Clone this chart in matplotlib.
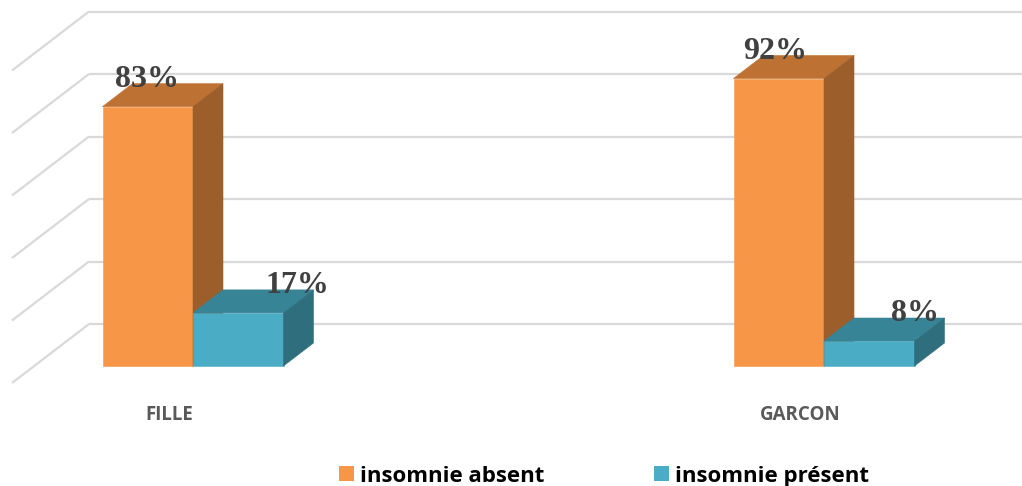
import matplotlib
matplotlib.use("Agg")
import matplotlib.pyplot as plt
from matplotlib.patches import Polygon, Patch

# data
categories = ["FILLE", "GARCON"]
series = ["insomnie absent", "insomnie présent"]
absent = [83, 92]
present = [17, 8]
grid_values = [0, 20, 40, 60, 80, 100]

# look
ORANGE = ("#F79646", "#BD7233", "#9C5E2B")   # front, top, side
TEAL = ("#4BACC6", "#388497", "#2F6E7D")
GRID = "#D9D9D9"
LABEL = "#404040"
CAT = "#595959"

# scale of the fake 3d frame (pixels per unit)
PX_X = 631.0
PX_Y = 3.125
def px_x(p): return p / PX_X
def px_y(p): return p / PX_Y

BAR_W = px_x(90.5)
DEPTH_X, DEPTH_Y = px_x(30), px_y(23)        # bar depth
BACK_X, BACK_Y = px_x(89 - 193), px_y(42)    # back wall corner
FRONT_X, WALL_Y = px_x(12 - 193), px_y(59)   # side wall front edge
LABEL_DX = [[px_x(-1), px_x(59)], [px_x(-4), px_x(46)]]

fig = plt.figure(figsize=(10.22, 4.86), dpi=100)
ax = fig.add_axes([0, 0, 1, 1])
ax.set_xlim(px_x(-193), px_x(1022 - 193))
ax.set_ylim(-px_y(486 - 366), px_y(366))
ax.axis("off")

# ---- walls gridlines ----
for v in grid_values:
    yb = v + BACK_Y
    ax.plot([BACK_X, px_x(1022 - 193) + 0.1], [yb, yb], color=GRID, lw=1.6, zorder=1,
            solid_capstyle="butt")
    ax.plot([BACK_X, FRONT_X], [yb, yb - WALL_Y], color=GRID, lw=1.6, zorder=1,
            solid_capstyle="butt")


def bar3d(x0, v, cols, z):
    x1 = x0 + BAR_W
    front = [(x0, 0), (x1, 0), (x1, v), (x0, v)]
    top = [(x0, v), (x1, v), (x1 + DEPTH_X, v + DEPTH_Y), (x0 + DEPTH_X, v + DEPTH_Y)]
    side = [(x1, 0), (x1 + DEPTH_X, DEPTH_Y), (x1 + DEPTH_X, v + DEPTH_Y), (x1, v)]
    for pts, c in zip([front, top, side], cols):
        ax.add_patch(Polygon(pts, closed=True, facecolor=c, edgecolor=c, lw=0.4, zorder=z))


for i, cat in enumerate(categories):
    vals = [absent[i], present[i]]
    for j, (v, cols) in enumerate(zip(vals, [ORANGE, TEAL])):
        x0 = i - BAR_W + j * BAR_W
        bar3d(x0, v, cols, 2 + j)
        ax.text(x0 + BAR_W / 2 + LABEL_DX[i][j], v + DEPTH_Y - 1, f"{v}%",
                ha="center", va="baseline", fontsize=23, fontweight="bold",
                family="Liberation Serif", color=LABEL, zorder=5)
    ax.text(i - px_x(23.5), -px_y(420 - 366), cat, ha="center", va="baseline",
            fontsize=13.5, fontweight="bold", family="Open Sans", color=CAT)

handles = [Patch(facecolor=ORANGE[0], label=series[0]),
           Patch(facecolor=TEAL[0], label=series[1])]
leg = fig.legend(handles=handles, loc="center", bbox_to_anchor=(604 / 1022, 1 - 476 / 486),
                 ncol=2, frameon=False, handlelength=0.68, handleheight=0.68,
                 handletextpad=0.28, columnspacing=4.9,
                 prop={"family": "Open Sans", "weight": "bold", "size": 16})

fig.savefig("out.png", dpi=100)
